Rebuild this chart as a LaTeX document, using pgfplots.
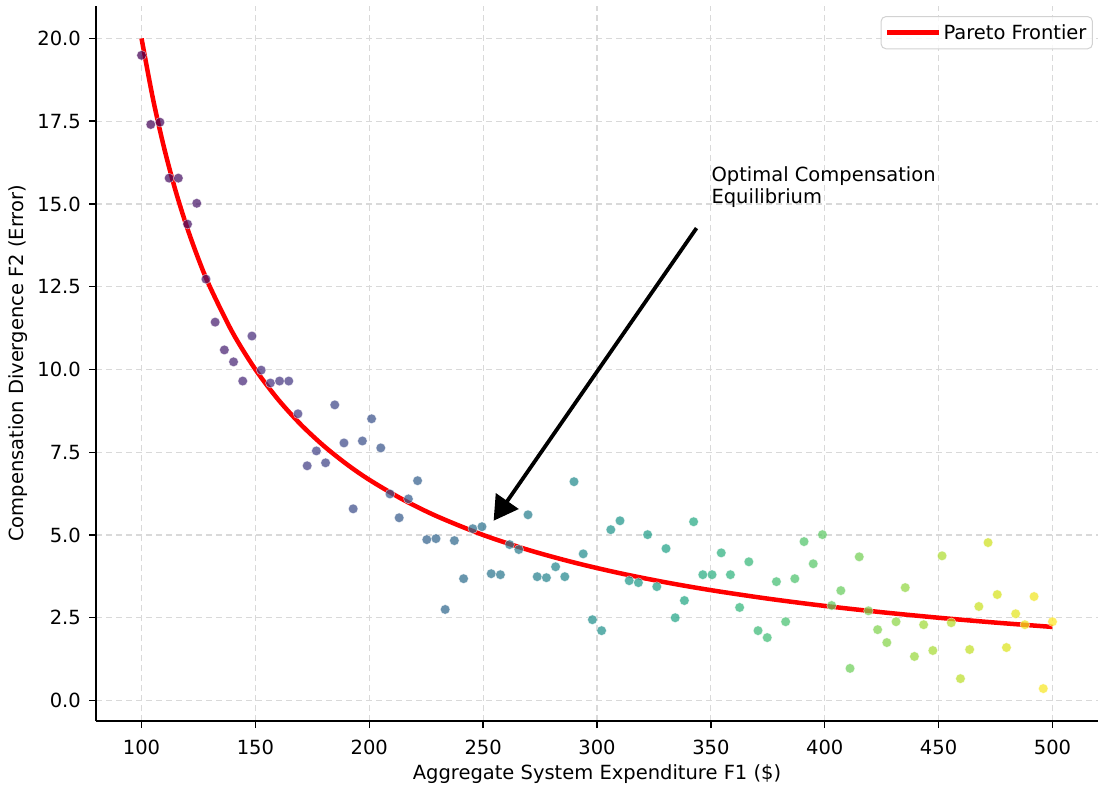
\documentclass[border=0pt]{standalone}
\usepackage{fontspec}
\setmainfont{DejaVu Sans}
\usepackage{pgfplots}
\usepackage{pgfplotstable}
\pgfplotsset{compat=1.18}
\usetikzlibrary{arrows.meta}

% scatter samples, x = linspace(100,500,100)
\pgfplotstableread{
x y
100.00 19.49
104.04 17.40
108.08 17.47
112.12 15.78
116.16 15.78
120.20 14.39
124.24 15.02
128.28 12.73
132.32 11.43
136.36 10.59
140.40 10.23
144.44 9.65
148.48 11.01
152.53 9.98
156.57 9.59
160.61 9.65
164.65 9.65
168.69 8.66
172.73 7.09
176.77 7.54
180.81 7.18
184.85 8.93
188.89 7.78
192.93 5.79
196.97 7.84
201.01 8.51
205.05 7.63
209.09 6.24
213.13 5.52
217.17 6.09
221.21 6.64
225.25 4.86
229.29 4.89
233.33 2.75
237.37 4.83
241.41 3.68
245.45 5.19
249.49 5.25
253.54 3.83
257.58 3.80
261.62 4.71
265.66 4.56
269.70 5.61
273.74 3.74
277.78 3.71
281.82 4.04
285.86 3.74
289.90 6.61
293.94 4.43
297.98 2.44
302.02 2.11
306.06 5.16
310.10 5.43
314.14 3.62
318.18 3.56
322.22 5.01
326.26 3.44
330.30 4.59
334.34 2.50
338.38 3.02
342.42 5.40
346.46 3.80
350.51 3.80
354.55 4.46
358.59 3.80
362.63 2.81
366.67 4.19
370.71 2.11
374.75 1.90
378.79 3.59
382.83 2.38
386.87 3.68
390.91 4.80
394.95 4.13
398.99 5.01
403.03 2.87
407.07 3.32
411.11 0.97
415.15 4.34
419.19 2.71
423.23 2.14
427.27 1.75
431.31 2.38
435.35 3.41
439.39 1.33
443.43 2.29
447.47 1.51
451.52 4.37
455.56 2.35
459.60 0.66
463.64 1.54
467.68 2.84
471.72 4.77
475.76 3.20
479.80 1.60
483.84 2.62
487.88 2.29
491.92 3.14
495.96 0.36
500.00 2.38
}\pts

% frontier
\pgfplotstableread{
x y
100 20.000
105 18.182
110 16.667
115 15.385
120 14.286
125 13.333
130 12.500
140 11.111
150 10.000
160 9.091
170 8.333
180 7.692
190 7.143
200 6.667
215 6.061
230 5.556
250 5.000
270 4.545
290 4.167
310 3.846
330 3.571
350 3.333
375 3.077
400 2.857
425 2.667
450 2.500
475 2.353
500 2.222
}\front

\begin{document}
\begin{tikzpicture}
\begin{axis}[
    width=1002pt, height=715pt, scale only axis,
    xmin=80, xmax=520, ymin=-0.62, ymax=20.98,
    axis x line*=bottom, axis y line*=left,
    axis line style={line width=1.6pt, -},
    xtick={100,150,200,250,300,350,400,450,500},
    ytick={0,2.5,5,7.5,10,12.5,15,17.5,20},
    yticklabel style={/pgf/number format/.cd, fixed, fixed zerofill, precision=1},
    /pgf/number format/assume math mode=true,
    tick align=outside, major tick length=7pt,
    tick style={line width=1.4pt, black},
    ticklabel style={font=\fontsize{19.5}{23}\selectfont, inner sep=0pt},
    xticklabel shift=12pt, yticklabel shift=8pt,
    label style={font=\fontsize{19.5}{23}\selectfont, inner sep=0pt},
    xlabel style={at={(axis description cs:0.5,0)}, anchor=south, yshift=-63pt},
    ylabel style={at={(axis description cs:0,0.5)}, anchor=south, yshift=68pt},
    xlabel={Aggregate System Expenditure F1 (\$)},
    ylabel={Compensation Divergence F2 (Error)},
    grid=major,
    major grid style={line width=1.2pt, gray!30, dash pattern=on 6pt off 4pt},
    colormap/viridis,
    legend style={at={(axis description cs:0.995,0.986)}, anchor=north east,
        font=\fontsize{19.5}{23}\selectfont, draw=gray!35, line width=1pt,
        rounded corners=5pt, fill=white, fill opacity=0.8, text opacity=1,
        inner xsep=4pt, inner ysep=6pt},
    legend image code/.code={\draw[#1, line width=4.5pt] (0pt,0pt) -- (43pt,0pt);
        \path (0pt,0pt) -- (52pt,0pt);},
]
\addplot[scatter, only marks, mark=*, mark size=4.8pt, point meta=x,
    point meta min=100, point meta max=500,
    scatter/use mapped color={draw=white, fill=mapped color},
    opacity=0.72, forget plot] table[x=x, y=y] {\pts};

\addplot[red, line width=4.5pt, smooth] table[x=x, y=y] {\front};
\addlegendentry{Pareto Frontier}

\draw[line width=3.8pt, -{Triangle[length=24pt, width=27pt]}]
    (axis cs:343.7,14.27) -- (axis cs:254.6,5.43);
\node[anchor=north west, inner sep=0pt, align=left,
    font=\fontsize{19.5}{22.5}\selectfont]
    at (axis cs:350.2,16.14) {Optimal Compensation\\Equilibrium};
\end{axis}
% outer margins as in the reference
\path ([xshift=-96pt, yshift=-66pt]current axis.south west)
      ([xshift=1pt, yshift=6pt]current axis.north east);
\end{tikzpicture}
\end{document}
